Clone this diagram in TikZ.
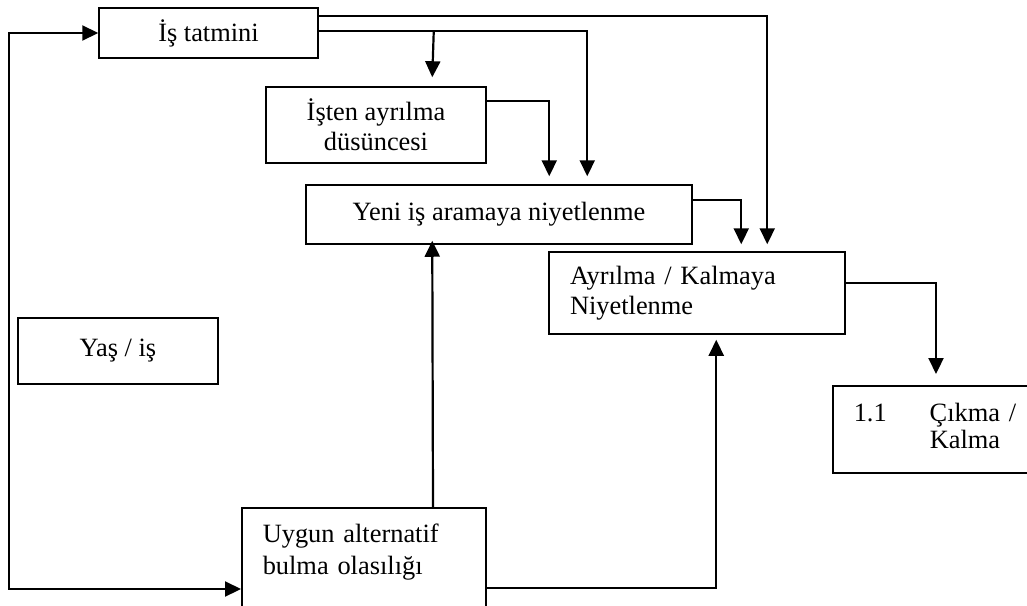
\documentclass[tikz,border=0pt]{standalone}
\usepackage{fontspec}
\setmainfont{Liberation Serif}
\usetikzlibrary{arrows.meta,calc}

\tikzset{
  box/.style={draw, line width=1.5pt, rectangle, inner sep=0pt,
    font=\fontsize{26.4}{30}\selectfont, align=center},
  leftbox/.style={box, align=left, inner xsep=21pt},
  conn/.style={line width=2.2pt, ->},
}

\begin{document}
\begin{tikzpicture}[x=1pt,y=-1pt, >={Triangle[length=16pt,width=15pt]}]
\useasboundingbox (0,0) rectangle (1027,605);

% boxes
\node[box, minimum width=219pt, minimum height=50pt] (tatmin) at (208.5,33) {İş tatmini};
\node[box, minimum width=220pt, minimum height=76pt] (dusunce) at (376,125) {İşten ayrılma\\düsüncesi};
\node[box, minimum width=386pt, minimum height=59pt] (arama) at (499,214.5) {Yeni iş aramaya niyetlenme};
\node[leftbox, text width=254pt, minimum height=82pt] (niyet) at (697,293) {Ayrılma / Kalmaya\\Niyetlenme};
\node[box, minimum width=200pt, minimum height=66pt] (yas) at (118,351) {Yaş / iş};
\node[leftbox, text width=190pt, minimum height=87pt, anchor=north west] (cikma) at (832,385)
  {\begin{tabular}{@{}p{76pt}@{}l@{}}1.1 & Çıkma /\\[-3pt] & Kalma\end{tabular}};
\node[leftbox, text width=202pt, inner ysep=16pt, anchor=north west] (uygun) at (241,507)
  {\parbox[t][110pt][t]{202pt}{\raggedright\fontsize{26.4}{32}\selectfont Uygun alternatif\\bulma olasılığı}};

% connectors from job satisfaction
\draw[conn] ($(tatmin.north east)+(0,9)$) -| ($(niyet.north west)+(219,-7)$);
\draw[conn] ($(tatmin.north east)+(0,24)$) -| ($(arama.north west)+(282,-8)$);
\draw[conn] ($(tatmin.north east)+(115,24)$) -- ($(dusunce.north west)+(167,-9)$);

% chain towards the decision
\draw[conn] ($(dusunce.north east)+(0,15)$) -| ($(arama.north west)+(244,-8)$);
\draw[conn] ($(arama.north east)+(0,16)$) -| ($(niyet.north west)+(193,-7)$);
\draw[conn] ($(niyet.north east)+(0,32)$) -| ($(cikma.north west)+(104,-11)$);

% alternatives feeding upwards
\draw[conn] ($(uygun.north west)+(192,0)$) -- ($(arama.south west)+(127,-4)$);
\draw[conn] ($(uygun.north east)+(0,81)$) -| ($(niyet.south west)+(168,5)$);

% feedback loop on the left
\draw[conn, <->]
  (tatmin.west) -- (9,33) -- (9,589) -- ($(uygun.north west)+(0,82)$);
\end{tikzpicture}
\end{document}
